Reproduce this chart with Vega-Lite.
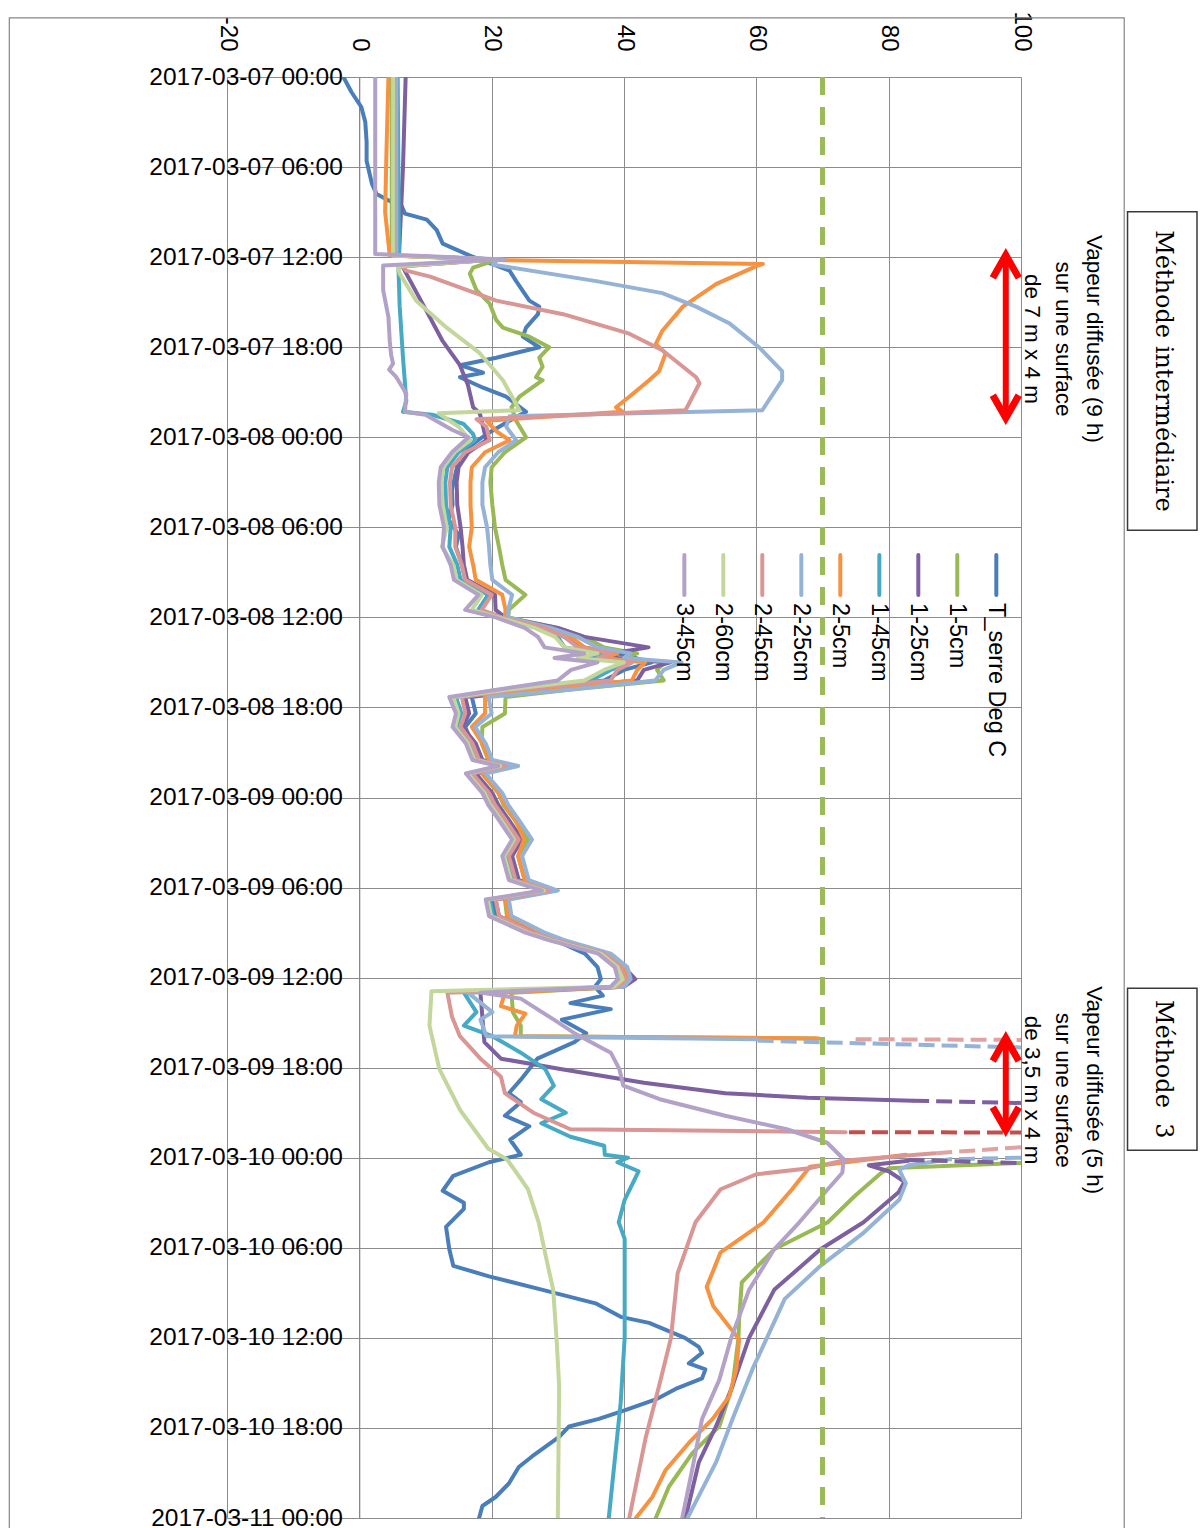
{
"$schema": "https://vega.github.io/schema/vega-lite/v6.json",
"width": 794,
"height": 1441,
"autosize": {"type": "none"},
"padding": {"left": 227, "top": 77, "right": 181, "bottom": 10},
"background": "#ffffff",
"config": {"view": {"stroke": null}, "font": "Liberation Sans"},
"layer": [
{
"data": {"format": {"parse": {"t": "date:'%Y-%m-%d %H:%M'"}}, "values": [
{"s":"T","t":"2017-03-07 00:00","v":-2.4},{"s":"T","t":"2017-03-07 01:00","v":-1.2},{"s":"T","t":"2017-03-07 02:00","v":0.3},{"s":"T","t":"2017-03-07 03:00","v":0.9},{"s":"T","t":"2017-03-07 04:18","v":1.1},{"s":"T","t":"2017-03-07 05:36","v":1.1},{"s":"T","t":"2017-03-07 07:06","v":1.9},{"s":"T","t":"2017-03-07 07:48","v":2.6},{"s":"T","t":"2017-03-07 08:12","v":4.3},{"s":"T","t":"2017-03-07 08:36","v":6.4},{"s":"T","t":"2017-03-07 09:06","v":6.9},{"s":"T","t":"2017-03-07 09:30","v":10.2},{"s":"T","t":"2017-03-07 10:12","v":11.7},{"s":"T","t":"2017-03-07 11:06","v":12.6},{"s":"T","t":"2017-03-07 11:54","v":16.7},{"s":"T","t":"2017-03-07 12:54","v":22.7},{"s":"T","t":"2017-03-07 13:36","v":23.7},{"s":"T","t":"2017-03-07 14:54","v":25.7},{"s":"T","t":"2017-03-07 15:18","v":27.2},{"s":"T","t":"2017-03-07 15:48","v":27},{"s":"T","t":"2017-03-07 16:42","v":25.2},{"s":"T","t":"2017-03-07 17:18","v":24.7},{"s":"T","t":"2017-03-07 18:00","v":27.2},{"s":"T","t":"2017-03-07 18:42","v":20.7},{"s":"T","t":"2017-03-07 19:12","v":15.2},{"s":"T","t":"2017-03-07 19:42","v":18.7},{"s":"T","t":"2017-03-07 20:00","v":15.2},{"s":"T","t":"2017-03-07 20:42","v":18.7},{"s":"T","t":"2017-03-07 21:18","v":22.2},{"s":"T","t":"2017-03-07 22:18","v":25.2},{"s":"T","t":"2017-03-07 22:54","v":22.7},{"s":"T","t":"2017-03-07 23:48","v":19.2},
{"s":"T","t":"2017-03-08 00:30","v":17},{"s":"T","t":"2017-03-08 01:30","v":15},{"s":"T","t":"2017-03-08 02:30","v":14.5},{"s":"T","t":"2017-03-08 03:30","v":14},{"s":"T","t":"2017-03-08 04:30","v":14.1},{"s":"T","t":"2017-03-08 05:30","v":13.5},{"s":"T","t":"2017-03-08 06:30","v":15},{"s":"T","t":"2017-03-08 07:18","v":14.6},{"s":"T","t":"2017-03-08 08:30","v":15.5},{"s":"T","t":"2017-03-08 09:30","v":16},{"s":"T","t":"2017-03-08 10:30","v":19.5},{"s":"T","t":"2017-03-08 11:30","v":18},{"s":"T","t":"2017-03-08 12:00","v":21.5},{"s":"T","t":"2017-03-08 12:42","v":28},{"s":"T","t":"2017-03-08 13:18","v":31},{"s":"T","t":"2017-03-08 14:00","v":34},{"s":"T","t":"2017-03-08 14:30","v":40},{"s":"T","t":"2017-03-08 15:00","v":44.2},{"s":"T","t":"2017-03-08 15:30","v":40},{"s":"T","t":"2017-03-08 16:12","v":37},{"s":"T","t":"2017-03-08 16:48","v":25},{"s":"T","t":"2017-03-08 17:18","v":17},{"s":"T","t":"2017-03-08 18:24","v":17.6},{"s":"T","t":"2017-03-08 19:18","v":16},{"s":"T","t":"2017-03-08 20:24","v":17.1},{"s":"T","t":"2017-03-08 21:30","v":18.1},{"s":"T","t":"2017-03-08 21:54","v":22},{"s":"T","t":"2017-03-08 22:24","v":17.1},{"s":"T","t":"2017-03-08 23:42","v":19.6},
{"s":"T","t":"2017-03-09 00:30","v":20.5},{"s":"T","t":"2017-03-09 01:30","v":22.1},{"s":"T","t":"2017-03-09 02:48","v":24.1},{"s":"T","t":"2017-03-09 03:54","v":22.6},{"s":"T","t":"2017-03-09 05:30","v":23.6},{"s":"T","t":"2017-03-09 06:12","v":28.6},{"s":"T","t":"2017-03-09 06:48","v":20.1},{"s":"T","t":"2017-03-09 07:54","v":20.6},{"s":"T","t":"2017-03-09 09:00","v":26.1},{"s":"T","t":"2017-03-09 09:30","v":29.6},{"s":"T","t":"2017-03-09 10:24","v":34.1},{"s":"T","t":"2017-03-09 11:18","v":36},{"s":"T","t":"2017-03-09 12:06","v":36.5},{"s":"T","t":"2017-03-09 12:36","v":35.6},{"s":"T","t":"2017-03-09 13:12","v":36.8},{"s":"T","t":"2017-03-09 13:42","v":31.9},{"s":"T","t":"2017-03-09 14:06","v":38},{"s":"T","t":"2017-03-09 14:48","v":30.6},{"s":"T","t":"2017-03-09 15:42","v":34.3},{"s":"T","t":"2017-03-09 16:18","v":32.5},{"s":"T","t":"2017-03-09 17:24","v":26.9},{"s":"T","t":"2017-03-09 18:48","v":24.4},{"s":"T","t":"2017-03-09 19:42","v":22.6},{"s":"T","t":"2017-03-09 20:18","v":24.4},{"s":"T","t":"2017-03-09 21:12","v":22},{"s":"T","t":"2017-03-09 21:54","v":25.7},{"s":"T","t":"2017-03-09 22:48","v":22.8},{"s":"T","t":"2017-03-09 23:48","v":24.4},
{"s":"T","t":"2017-03-10 00:18","v":19.6},{"s":"T","t":"2017-03-10 01:12","v":14.2},{"s":"T","t":"2017-03-10 02:12","v":12.6},{"s":"T","t":"2017-03-10 03:00","v":15.8},{"s":"T","t":"2017-03-10 03:24","v":15.8},{"s":"T","t":"2017-03-10 04:36","v":13.1},{"s":"T","t":"2017-03-10 06:06","v":13.6},{"s":"T","t":"2017-03-10 07:12","v":14.2},{"s":"T","t":"2017-03-10 07:54","v":19.6},{"s":"T","t":"2017-03-10 08:48","v":27.7},{"s":"T","t":"2017-03-10 09:42","v":35.7},{"s":"T","t":"2017-03-10 10:36","v":39.5},{"s":"T","t":"2017-03-10 11:00","v":43.8},{"s":"T","t":"2017-03-10 12:00","v":49.2},{"s":"T","t":"2017-03-10 12:36","v":51.3},{"s":"T","t":"2017-03-10 13:00","v":51.8},{"s":"T","t":"2017-03-10 13:42","v":49.8},{"s":"T","t":"2017-03-10 14:06","v":52.3},{"s":"T","t":"2017-03-10 14:42","v":51.8},{"s":"T","t":"2017-03-10 15:24","v":47.8},{"s":"T","t":"2017-03-10 16:06","v":44.8},{"s":"T","t":"2017-03-10 16:48","v":40.3},{"s":"T","t":"2017-03-10 17:24","v":36.2},{"s":"T","t":"2017-03-10 17:54","v":31.7},{"s":"T","t":"2017-03-10 18:36","v":30.2},{"s":"T","t":"2017-03-10 19:54","v":26.1},{"s":"T","t":"2017-03-10 20:36","v":24.1},{"s":"T","t":"2017-03-10 21:42","v":22.6},{"s":"T","t":"2017-03-10 22:36","v":20.6},{"s":"T","t":"2017-03-10 23:12","v":18.6},{"s":"T","t":"2017-03-11 00:00","v":18.1},

{"s":"G5","t":"2017-03-07 00:00","v":4.9},{"s":"G5","t":"2017-03-07 11:54","v":4.9},{"s":"G5","t":"2017-03-07 12:09","v":21},{"s":"G5","t":"2017-03-07 12:42","v":17.2},{"s":"G5","t":"2017-03-07 13:06","v":16.7},{"s":"G5","t":"2017-03-07 14:12","v":17.7},{"s":"G5","t":"2017-03-07 15:06","v":19.7},{"s":"G5","t":"2017-03-07 16:12","v":20.7},{"s":"G5","t":"2017-03-07 16:42","v":21.7},{"s":"G5","t":"2017-03-07 17:18","v":25.7},{"s":"G5","t":"2017-03-07 18:00","v":28.7},{"s":"G5","t":"2017-03-07 18:42","v":27.2},{"s":"G5","t":"2017-03-07 19:18","v":27.7},{"s":"G5","t":"2017-03-07 20:00","v":26.7},{"s":"G5","t":"2017-03-07 20:12","v":27.7},{"s":"G5","t":"2017-03-07 21:18","v":24.2},{"s":"G5","t":"2017-03-07 22:00","v":23},{"s":"G5","t":"2017-03-07 22:54","v":23.7},{"s":"G5","t":"2017-03-08 00:00","v":25.2},
{"s":"G5","t":"2017-03-08 01:00","v":22},{"s":"G5","t":"2017-03-08 02:00","v":20},{"s":"G5","t":"2017-03-08 03:00","v":19.8},{"s":"G5","t":"2017-03-08 04:30","v":20.1},{"s":"G5","t":"2017-03-08 06:00","v":20.5},{"s":"G5","t":"2017-03-08 07:18","v":21.1},{"s":"G5","t":"2017-03-08 08:30","v":21.6},{"s":"G5","t":"2017-03-08 09:30","v":22.1},{"s":"G5","t":"2017-03-08 10:30","v":25.1},{"s":"G5","t":"2017-03-08 11:30","v":22.6},{"s":"G5","t":"2017-03-08 12:00","v":22.5},{"s":"G5","t":"2017-03-08 12:42","v":30},{"s":"G5","t":"2017-03-08 13:18","v":34},{"s":"G5","t":"2017-03-08 14:00","v":37},{"s":"G5","t":"2017-03-08 14:24","v":42},{"s":"G5","t":"2017-03-08 14:42","v":40},{"s":"G5","t":"2017-03-08 15:00","v":46.2},{"s":"G5","t":"2017-03-08 15:30","v":45},{"s":"G5","t":"2017-03-08 16:12","v":46},{"s":"G5","t":"2017-03-08 16:48","v":32},{"s":"G5","t":"2017-03-08 17:18","v":22.1},{"s":"G5","t":"2017-03-08 18:24","v":22},{"s":"G5","t":"2017-03-08 19:18","v":18.6},{"s":"G5","t":"2017-03-08 20:24","v":18.5},{"s":"G5","t":"2017-03-08 21:30","v":19.5},{"s":"G5","t":"2017-03-08 21:54","v":23},{"s":"G5","t":"2017-03-08 22:24","v":18.5},{"s":"G5","t":"2017-03-08 23:42","v":21},{"s":"G5","t":"2017-03-09 00:30","v":21.8},{"s":"G5","t":"2017-03-09 01:30","v":23.5},{"s":"G5","t":"2017-03-09 02:48","v":25.5},{"s":"G5","t":"2017-03-09 03:54","v":24},{"s":"G5","t":"2017-03-09 05:30","v":25},{"s":"G5","t":"2017-03-09 06:12","v":29.5},{"s":"G5","t":"2017-03-09 06:48","v":22},{"s":"G5","t":"2017-03-09 07:54","v":22.3},{"s":"G5","t":"2017-03-09 09:00","v":27.3},{"s":"G5","t":"2017-03-09 09:30","v":30.3},{"s":"G5","t":"2017-03-09 10:24","v":37.5},{"s":"G5","t":"2017-03-09 11:18","v":40},{"s":"G5","t":"2017-03-09 12:06","v":41},{"s":"G5","t":"2017-03-09 12:36","v":40},
{"s":"G5","t":"2017-03-09 13:00","v":23},{"s":"G5","t":"2017-03-09 14:18","v":23.2},{"s":"G5","t":"2017-03-09 15:12","v":24.4},{"s":"G5","t":"2017-03-09 15:54","v":24.4},{"s":"G5","t":"2017-03-09 16:03","v":69},
{"s":"G5b","t":"2017-03-10 00:21","v":100},{"s":"G5b","t":"2017-03-10 00:42","v":80},{"s":"G5b","t":"2017-03-10 01:00","v":78.9},{"s":"G5b","t":"2017-03-10 02:30","v":75},{"s":"G5b","t":"2017-03-10 04:18","v":70.8},{"s":"G5b","t":"2017-03-10 06:06","v":62.7},{"s":"G5b","t":"2017-03-10 08:18","v":57.8},{"s":"G5b","t":"2017-03-10 10:48","v":57.4},{"s":"G5b","t":"2017-03-10 12:00","v":57.3},{"s":"G5b","t":"2017-03-10 15:12","v":56.4},{"s":"G5b","t":"2017-03-10 17:54","v":54.4},{"s":"G5b","t":"2017-03-10 19:42","v":50.3},{"s":"G5b","t":"2017-03-10 21:54","v":46.8},{"s":"G5b","t":"2017-03-11 00:00","v":44.8},

{"s":"P25","t":"2017-03-07 00:00","v":7},{"s":"P25","t":"2017-03-07 06:00","v":6.6},{"s":"P25","t":"2017-03-07 11:54","v":6},{"s":"P25","t":"2017-03-07 12:09","v":21},{"s":"P25","t":"2017-03-07 12:36","v":6.5},{"s":"P25","t":"2017-03-07 13:06","v":7.1},{"s":"P25","t":"2017-03-07 15:18","v":9.8},{"s":"P25","t":"2017-03-07 17:36","v":12.6},{"s":"P25","t":"2017-03-07 19:12","v":15.2},{"s":"P25","t":"2017-03-07 20:30","v":16.4},{"s":"P25","t":"2017-03-07 22:00","v":17.2},{"s":"P25","t":"2017-03-07 22:24","v":18.2},{"s":"P25","t":"2017-03-07 23:18","v":18.7},{"s":"P25","t":"2017-03-08 00:12","v":19.2},
{"s":"P25","t":"2017-03-08 01:00","v":16.5},{"s":"P25","t":"2017-03-08 02:00","v":15},{"s":"P25","t":"2017-03-08 03:00","v":14.7},{"s":"P25","t":"2017-03-08 04:30","v":14.8},{"s":"P25","t":"2017-03-08 06:00","v":15.3},{"s":"P25","t":"2017-03-08 07:18","v":15.6},{"s":"P25","t":"2017-03-08 08:30","v":15.8},{"s":"P25","t":"2017-03-08 09:30","v":16.3},{"s":"P25","t":"2017-03-08 10:30","v":20.5},{"s":"P25","t":"2017-03-08 11:30","v":20.6},{"s":"P25","t":"2017-03-08 12:00","v":22},{"s":"P25","t":"2017-03-08 12:42","v":30},{"s":"P25","t":"2017-03-08 13:18","v":34},{"s":"P25","t":"2017-03-08 14:00","v":43.7},{"s":"P25","t":"2017-03-08 14:24","v":38},{"s":"P25","t":"2017-03-08 14:42","v":39},{"s":"P25","t":"2017-03-08 15:00","v":47},{"s":"P25","t":"2017-03-08 15:30","v":43},{"s":"P25","t":"2017-03-08 16:12","v":42},{"s":"P25","t":"2017-03-08 16:48","v":27},{"s":"P25","t":"2017-03-08 17:18","v":16},{"s":"P25","t":"2017-03-08 18:24","v":16.6},{"s":"P25","t":"2017-03-08 19:18","v":15.6},{"s":"P25","t":"2017-03-08 20:24","v":17.6},{"s":"P25","t":"2017-03-08 21:30","v":18.6},{"s":"P25","t":"2017-03-08 21:54","v":22.5},{"s":"P25","t":"2017-03-08 22:24","v":17.6},{"s":"P25","t":"2017-03-08 23:42","v":20.1},{"s":"P25","t":"2017-03-09 00:30","v":21},{"s":"P25","t":"2017-03-09 01:30","v":22.6},{"s":"P25","t":"2017-03-09 02:48","v":24.6},{"s":"P25","t":"2017-03-09 03:54","v":23.1},{"s":"P25","t":"2017-03-09 05:30","v":24.1},{"s":"P25","t":"2017-03-09 06:12","v":29},{"s":"P25","t":"2017-03-09 06:48","v":20.6},{"s":"P25","t":"2017-03-09 07:54","v":21.1},{"s":"P25","t":"2017-03-09 09:00","v":26.6},{"s":"P25","t":"2017-03-09 09:30","v":30.1},{"s":"P25","t":"2017-03-09 10:24","v":37.6},{"s":"P25","t":"2017-03-09 11:18","v":40},{"s":"P25","t":"2017-03-09 12:06","v":41.7},{"s":"P25","t":"2017-03-09 12:36","v":40},
{"s":"P25","t":"2017-03-09 13:00","v":18.3},{"s":"P25","t":"2017-03-09 16:18","v":18.9},{"s":"P25","t":"2017-03-09 17:24","v":21.4},{"s":"P25","t":"2017-03-09 18:06","v":30.6},{"s":"P25","t":"2017-03-09 19:00","v":43},{"s":"P25","t":"2017-03-09 19:42","v":55.3},{"s":"P25","t":"2017-03-09 20:00","v":67.7},{"s":"P25","t":"2017-03-09 20:12","v":83.7},
{"s":"P25b","t":"2017-03-10 00:12","v":83},{"s":"P25b","t":"2017-03-10 00:30","v":77},{"s":"P25b","t":"2017-03-10 00:54","v":80},{"s":"P25b","t":"2017-03-10 01:36","v":82.4},{"s":"P25b","t":"2017-03-10 02:18","v":81.5},{"s":"P25b","t":"2017-03-10 04:18","v":76.2},{"s":"P25b","t":"2017-03-10 06:06","v":69.7},{"s":"P25b","t":"2017-03-10 08:48","v":62.7},{"s":"P25b","t":"2017-03-10 12:00","v":58.9},{"s":"P25b","t":"2017-03-10 15:12","v":56.4},{"s":"P25b","t":"2017-03-10 17:54","v":53.9},{"s":"P25b","t":"2017-03-10 20:18","v":51.3},{"s":"P25b","t":"2017-03-11 00:00","v":49.3},

{"s":"Te45","t":"2017-03-07 00:00","v":5.8},{"s":"Te45","t":"2017-03-07 11:54","v":6},{"s":"Te45","t":"2017-03-07 12:09","v":21},{"s":"Te45","t":"2017-03-07 12:33","v":5.9},{"s":"Te45","t":"2017-03-07 15:18","v":6.1},{"s":"Te45","t":"2017-03-07 18:42","v":6.6},{"s":"Te45","t":"2017-03-07 21:36","v":7.1},{"s":"Te45","t":"2017-03-07 22:18","v":6.6},{"s":"Te45","t":"2017-03-07 22:30","v":11},{"s":"Te45","t":"2017-03-07 23:06","v":15.7},{"s":"Te45","t":"2017-03-07 23:48","v":17.2},{"s":"Te45","t":"2017-03-08 00:12","v":17.5},
{"s":"Te45","t":"2017-03-08 01:00","v":15},{"s":"Te45","t":"2017-03-08 02:00","v":13.3},{"s":"Te45","t":"2017-03-08 03:00","v":13},{"s":"Te45","t":"2017-03-08 04:30","v":13.1},{"s":"Te45","t":"2017-03-08 06:00","v":13.8},{"s":"Te45","t":"2017-03-08 07:18","v":13.6},{"s":"Te45","t":"2017-03-08 08:30","v":14.8},{"s":"Te45","t":"2017-03-08 09:30","v":15.3},{"s":"Te45","t":"2017-03-08 10:30","v":19.5},{"s":"Te45","t":"2017-03-08 11:30","v":18},{"s":"Te45","t":"2017-03-08 12:00","v":21.5},{"s":"Te45","t":"2017-03-08 12:42","v":27},{"s":"Te45","t":"2017-03-08 13:18","v":30},{"s":"Te45","t":"2017-03-08 14:00","v":31},{"s":"Te45","t":"2017-03-08 14:24","v":37},{"s":"Te45","t":"2017-03-08 14:42","v":35},{"s":"Te45","t":"2017-03-08 15:00","v":41},{"s":"Te45","t":"2017-03-08 15:30","v":38},{"s":"Te45","t":"2017-03-08 16:12","v":35},{"s":"Te45","t":"2017-03-08 16:48","v":23},{"s":"Te45","t":"2017-03-08 17:18","v":14.6},{"s":"Te45","t":"2017-03-08 18:24","v":15.4},{"s":"Te45","t":"2017-03-08 19:18","v":14.7},{"s":"Te45","t":"2017-03-08 20:24","v":16.7},{"s":"Te45","t":"2017-03-08 21:30","v":17.7},{"s":"Te45","t":"2017-03-08 21:54","v":21.5},{"s":"Te45","t":"2017-03-08 22:24","v":16.7},{"s":"Te45","t":"2017-03-08 23:42","v":19.2},{"s":"Te45","t":"2017-03-09 00:30","v":20.1},{"s":"Te45","t":"2017-03-09 01:30","v":21.7},{"s":"Te45","t":"2017-03-09 02:48","v":23.7},{"s":"Te45","t":"2017-03-09 03:54","v":22.2},{"s":"Te45","t":"2017-03-09 05:30","v":23.2},{"s":"Te45","t":"2017-03-09 06:12","v":28.2},{"s":"Te45","t":"2017-03-09 06:48","v":19.7},{"s":"Te45","t":"2017-03-09 07:54","v":20.2},{"s":"Te45","t":"2017-03-09 09:00","v":25.7},{"s":"Te45","t":"2017-03-09 09:30","v":29.2},{"s":"Te45","t":"2017-03-09 10:24","v":37},{"s":"Te45","t":"2017-03-09 11:18","v":39.5},{"s":"Te45","t":"2017-03-09 12:06","v":40.5},{"s":"Te45","t":"2017-03-09 12:36","v":39},
{"s":"Te45","t":"2017-03-09 13:00","v":15.8},{"s":"Te45","t":"2017-03-09 14:18","v":17.7},{"s":"Te45","t":"2017-03-09 15:12","v":15.8},{"s":"Te45","t":"2017-03-09 15:54","v":20.1},{"s":"Te45","t":"2017-03-09 17:00","v":24.4},{"s":"Te45","t":"2017-03-09 18:06","v":28.1},{"s":"Te45","t":"2017-03-09 19:12","v":29.4},{"s":"Te45","t":"2017-03-09 20:06","v":27.5},{"s":"Te45","t":"2017-03-09 21:00","v":31.2},{"s":"Te45","t":"2017-03-09 21:42","v":27.5},{"s":"Te45","t":"2017-03-09 22:36","v":31.9},{"s":"Te45","t":"2017-03-09 23:12","v":37},{"s":"Te45","t":"2017-03-09 23:48","v":37.1},{"s":"Te45","t":"2017-03-10 00:00","v":40.6},{"s":"Te45","t":"2017-03-10 00:18","v":39},{"s":"Te45","t":"2017-03-10 00:54","v":42.2},{"s":"Te45","t":"2017-03-10 02:48","v":40.1},{"s":"Te45","t":"2017-03-10 04:18","v":39.2},{"s":"Te45","t":"2017-03-10 05:24","v":40.1},{"s":"Te45","t":"2017-03-10 12:00","v":40.1},{"s":"Te45","t":"2017-03-10 16:18","v":39.5},{"s":"Te45","t":"2017-03-11 00:00","v":37.7},

{"s":"O5","t":"2017-03-07 00:00","v":4.4},{"s":"O5","t":"2017-03-07 05:00","v":4.1},{"s":"O5","t":"2017-03-07 09:00","v":3.9},{"s":"O5","t":"2017-03-07 11:54","v":4.6},{"s":"O5","t":"2017-03-07 12:12","v":22},{"s":"O5","t":"2017-03-07 12:27","v":61},{"s":"O5","t":"2017-03-07 12:36","v":60},{"s":"O5","t":"2017-03-07 13:48","v":53.9},{"s":"O5","t":"2017-03-07 14:42","v":50.9},{"s":"O5","t":"2017-03-07 15:18","v":48.9},{"s":"O5","t":"2017-03-07 16:54","v":45.8},{"s":"O5","t":"2017-03-07 17:48","v":44.8},{"s":"O5","t":"2017-03-07 18:24","v":46.3},{"s":"O5","t":"2017-03-07 19:36","v":45.3},{"s":"O5","t":"2017-03-07 20:12","v":43.8},{"s":"O5","t":"2017-03-07 21:18","v":40.8},{"s":"O5","t":"2017-03-07 22:00","v":38.8},{"s":"O5","t":"2017-03-07 22:18","v":39.8},{"s":"O5","t":"2017-03-07 22:54","v":19.2},{"s":"O5","t":"2017-03-07 23:36","v":20.7},{"s":"O5","t":"2017-03-08 00:12","v":22.7},
{"s":"O5","t":"2017-03-08 01:00","v":19},{"s":"O5","t":"2017-03-08 02:00","v":17},{"s":"O5","t":"2017-03-08 03:00","v":16.8},{"s":"O5","t":"2017-03-08 04:30","v":16.8},{"s":"O5","t":"2017-03-08 06:00","v":17},{"s":"O5","t":"2017-03-08 07:18","v":16.6},{"s":"O5","t":"2017-03-08 08:30","v":17.2},{"s":"O5","t":"2017-03-08 09:30","v":17.6},{"s":"O5","t":"2017-03-08 10:30","v":21.6},{"s":"O5","t":"2017-03-08 11:30","v":22.1},{"s":"O5","t":"2017-03-08 12:00","v":22},{"s":"O5","t":"2017-03-08 12:42","v":28},{"s":"O5","t":"2017-03-08 13:18","v":32},{"s":"O5","t":"2017-03-08 14:00","v":34},{"s":"O5","t":"2017-03-08 14:24","v":39},{"s":"O5","t":"2017-03-08 14:42","v":37},{"s":"O5","t":"2017-03-08 15:00","v":43.2},{"s":"O5","t":"2017-03-08 15:30","v":42},{"s":"O5","t":"2017-03-08 16:12","v":41.2},{"s":"O5","t":"2017-03-08 16:48","v":28},{"s":"O5","t":"2017-03-08 17:18","v":19},{"s":"O5","t":"2017-03-08 18:24","v":19},{"s":"O5","t":"2017-03-08 19:18","v":17},{"s":"O5","t":"2017-03-08 20:24","v":18.6},{"s":"O5","t":"2017-03-08 21:30","v":19.6},{"s":"O5","t":"2017-03-08 21:54","v":23.5},{"s":"O5","t":"2017-03-08 22:24","v":18.6},{"s":"O5","t":"2017-03-08 23:42","v":21.1},{"s":"O5","t":"2017-03-09 00:30","v":22},{"s":"O5","t":"2017-03-09 01:30","v":23.6},{"s":"O5","t":"2017-03-09 02:48","v":24.9},{"s":"O5","t":"2017-03-09 03:54","v":24},{"s":"O5","t":"2017-03-09 05:30","v":25},{"s":"O5","t":"2017-03-09 06:12","v":29.5},{"s":"O5","t":"2017-03-09 06:48","v":22.1},{"s":"O5","t":"2017-03-09 07:54","v":22.5},{"s":"O5","t":"2017-03-09 09:00","v":27.5},{"s":"O5","t":"2017-03-09 09:30","v":30.5},{"s":"O5","t":"2017-03-09 10:24","v":37.5},{"s":"O5","t":"2017-03-09 11:18","v":40},{"s":"O5","t":"2017-03-09 12:06","v":40.5},{"s":"O5","t":"2017-03-09 12:36","v":39.5},
{"s":"O5","t":"2017-03-09 13:00","v":22},{"s":"O5","t":"2017-03-09 13:54","v":21.4},{"s":"O5","t":"2017-03-09 14:24","v":25.1},{"s":"O5","t":"2017-03-09 15:12","v":23.8},{"s":"O5","t":"2017-03-09 15:54","v":23.5},{"s":"O5","t":"2017-03-09 16:03","v":69.5},
{"s":"O5b","t":"2017-03-09 23:48","v":82.6},{"s":"O5b","t":"2017-03-10 00:36","v":68.1},{"s":"O5b","t":"2017-03-10 02:06","v":65.4},{"s":"O5b","t":"2017-03-10 04:18","v":61.1},{"s":"O5b","t":"2017-03-10 06:18","v":54.6},{"s":"O5b","t":"2017-03-10 08:36","v":52.5},{"s":"O5b","t":"2017-03-10 09:54","v":53.5},{"s":"O5b","t":"2017-03-10 12:06","v":57.4},{"s":"O5b","t":"2017-03-10 14:00","v":57},{"s":"O5b","t":"2017-03-10 15:54","v":55.9},{"s":"O5b","t":"2017-03-10 17:24","v":53.4},{"s":"O5b","t":"2017-03-10 19:00","v":49.8},{"s":"O5b","t":"2017-03-10 20:48","v":46.3},{"s":"O5b","t":"2017-03-10 22:36","v":44.3},{"s":"O5b","t":"2017-03-11 00:00","v":41.8},

{"s":"LB25","t":"2017-03-07 00:00","v":5.6},{"s":"LB25","t":"2017-03-07 11:54","v":5.6},{"s":"LB25","t":"2017-03-07 12:09","v":21},{"s":"LB25","t":"2017-03-07 12:30","v":20.2},{"s":"LB25","t":"2017-03-07 13:36","v":35.8},{"s":"LB25","t":"2017-03-07 14:24","v":45.8},{"s":"LB25","t":"2017-03-07 15:18","v":50.9},{"s":"LB25","t":"2017-03-07 16:24","v":55.9},{"s":"LB25","t":"2017-03-07 18:00","v":60.4},{"s":"LB25","t":"2017-03-07 19:36","v":63.9},{"s":"LB25","t":"2017-03-07 20:12","v":63.9},{"s":"LB25","t":"2017-03-07 22:12","v":60.9},{"s":"LB25","t":"2017-03-07 22:36","v":22.7},{"s":"LB25","t":"2017-03-07 23:18","v":22.2},{"s":"LB25","t":"2017-03-08 00:12","v":23.7},
{"s":"LB25","t":"2017-03-08 01:00","v":21},{"s":"LB25","t":"2017-03-08 02:00","v":19},{"s":"LB25","t":"2017-03-08 03:00","v":18.6},{"s":"LB25","t":"2017-03-08 04:30","v":18.6},{"s":"LB25","t":"2017-03-08 06:00","v":19.3},{"s":"LB25","t":"2017-03-08 07:18","v":19.6},{"s":"LB25","t":"2017-03-08 08:30","v":19.8},{"s":"LB25","t":"2017-03-08 09:30","v":20.1},{"s":"LB25","t":"2017-03-08 10:30","v":23.1},{"s":"LB25","t":"2017-03-08 11:30","v":22.5},{"s":"LB25","t":"2017-03-08 12:00","v":22.5},{"s":"LB25","t":"2017-03-08 12:42","v":29},{"s":"LB25","t":"2017-03-08 13:18","v":33},{"s":"LB25","t":"2017-03-08 14:00","v":36},{"s":"LB25","t":"2017-03-08 14:24","v":41},{"s":"LB25","t":"2017-03-08 14:42","v":40},{"s":"LB25","t":"2017-03-08 15:00","v":48.7},{"s":"LB25","t":"2017-03-08 15:30","v":46},{"s":"LB25","t":"2017-03-08 16:12","v":44.7},{"s":"LB25","t":"2017-03-08 16:48","v":32},{"s":"LB25","t":"2017-03-08 17:18","v":19.5},{"s":"LB25","t":"2017-03-08 18:24","v":20},{"s":"LB25","t":"2017-03-08 19:18","v":17.5},{"s":"LB25","t":"2017-03-08 20:24","v":19.1},{"s":"LB25","t":"2017-03-08 21:30","v":20.1},{"s":"LB25","t":"2017-03-08 21:54","v":24},{"s":"LB25","t":"2017-03-08 22:24","v":19.1},{"s":"LB25","t":"2017-03-08 23:42","v":21.6},{"s":"LB25","t":"2017-03-09 00:30","v":22.5},{"s":"LB25","t":"2017-03-09 01:30","v":24.1},{"s":"LB25","t":"2017-03-09 02:48","v":26.1},{"s":"LB25","t":"2017-03-09 03:54","v":24.6},{"s":"LB25","t":"2017-03-09 05:30","v":25.6},{"s":"LB25","t":"2017-03-09 06:12","v":30},{"s":"LB25","t":"2017-03-09 06:48","v":22.6},{"s":"LB25","t":"2017-03-09 07:54","v":23},{"s":"LB25","t":"2017-03-09 09:00","v":28},{"s":"LB25","t":"2017-03-09 09:30","v":31},{"s":"LB25","t":"2017-03-09 10:24","v":38},{"s":"LB25","t":"2017-03-09 11:18","v":40.5},{"s":"LB25","t":"2017-03-09 12:06","v":41},{"s":"LB25","t":"2017-03-09 12:36","v":40},
{"s":"LB25","t":"2017-03-09 13:00","v":16.4},{"s":"LB25","t":"2017-03-09 14:18","v":20.1},{"s":"LB25","t":"2017-03-09 14:48","v":18.3},{"s":"LB25","t":"2017-03-09 15:54","v":19.2},{"s":"LB25","t":"2017-03-09 16:06","v":60.2},
{"s":"LB25b","t":"2017-03-10 00:06","v":89.3},{"s":"LB25b","t":"2017-03-10 00:30","v":83},{"s":"LB25b","t":"2017-03-10 00:48","v":81.6},{"s":"LB25b","t":"2017-03-10 01:42","v":82.6},{"s":"LB25b","t":"2017-03-10 02:48","v":81.6},{"s":"LB25b","t":"2017-03-10 05:00","v":76.2},{"s":"LB25b","t":"2017-03-10 07:12","v":69.7},{"s":"LB25b","t":"2017-03-10 09:24","v":64.3},{"s":"LB25b","t":"2017-03-10 12:00","v":61.6},{"s":"LB25b","t":"2017-03-10 14:06","v":59.4},{"s":"LB25b","t":"2017-03-10 17:24","v":56.4},{"s":"LB25b","t":"2017-03-10 20:18","v":53.9},{"s":"LB25b","t":"2017-03-11 00:00","v":49.6},

{"s":"Pk45","t":"2017-03-07 00:00","v":5.3},{"s":"Pk45","t":"2017-03-07 11:54","v":5.3},{"s":"Pk45","t":"2017-03-07 12:09","v":21},{"s":"Pk45","t":"2017-03-07 12:36","v":6.5},{"s":"Pk45","t":"2017-03-07 12:54","v":7.1},{"s":"Pk45","t":"2017-03-07 13:18","v":10.7},{"s":"Pk45","t":"2017-03-07 14:54","v":20.7},{"s":"Pk45","t":"2017-03-07 15:48","v":30.8},{"s":"Pk45","t":"2017-03-07 17:06","v":40.8},{"s":"Pk45","t":"2017-03-07 18:12","v":45.8},{"s":"Pk45","t":"2017-03-07 20:00","v":50.9},{"s":"Pk45","t":"2017-03-07 20:24","v":51.4},{"s":"Pk45","t":"2017-03-07 22:12","v":49.3},{"s":"Pk45","t":"2017-03-07 22:48","v":17.7},{"s":"Pk45","t":"2017-03-07 23:18","v":19.2},{"s":"Pk45","t":"2017-03-08 00:12","v":19.7},
{"s":"Pk45","t":"2017-03-08 01:00","v":16},{"s":"Pk45","t":"2017-03-08 02:00","v":14},{"s":"Pk45","t":"2017-03-08 03:00","v":13.7},{"s":"Pk45","t":"2017-03-08 04:30","v":13.8},{"s":"Pk45","t":"2017-03-08 06:00","v":14.5},{"s":"Pk45","t":"2017-03-08 07:18","v":14.5},{"s":"Pk45","t":"2017-03-08 08:30","v":15.5},{"s":"Pk45","t":"2017-03-08 09:30","v":16},{"s":"Pk45","t":"2017-03-08 10:30","v":20},{"s":"Pk45","t":"2017-03-08 11:30","v":18.5},{"s":"Pk45","t":"2017-03-08 12:00","v":21.5},{"s":"Pk45","t":"2017-03-08 12:42","v":28},{"s":"Pk45","t":"2017-03-08 13:18","v":31},{"s":"Pk45","t":"2017-03-08 14:00","v":33},{"s":"Pk45","t":"2017-03-08 14:24","v":38},{"s":"Pk45","t":"2017-03-08 14:42","v":36},{"s":"Pk45","t":"2017-03-08 15:00","v":41.2},{"s":"Pk45","t":"2017-03-08 15:30","v":39},{"s":"Pk45","t":"2017-03-08 16:12","v":38},{"s":"Pk45","t":"2017-03-08 16:48","v":24},{"s":"Pk45","t":"2017-03-08 17:18","v":15.5},{"s":"Pk45","t":"2017-03-08 18:24","v":16},{"s":"Pk45","t":"2017-03-08 19:18","v":15.3},{"s":"Pk45","t":"2017-03-08 20:24","v":17.1},{"s":"Pk45","t":"2017-03-08 21:30","v":18.1},{"s":"Pk45","t":"2017-03-08 21:54","v":22},{"s":"Pk45","t":"2017-03-08 22:24","v":17.1},{"s":"Pk45","t":"2017-03-08 23:42","v":19.6},{"s":"Pk45","t":"2017-03-09 00:30","v":20.5},{"s":"Pk45","t":"2017-03-09 01:30","v":22.1},{"s":"Pk45","t":"2017-03-09 02:48","v":24.1},{"s":"Pk45","t":"2017-03-09 03:54","v":22.6},{"s":"Pk45","t":"2017-03-09 05:30","v":23.6},{"s":"Pk45","t":"2017-03-09 06:12","v":28.6},{"s":"Pk45","t":"2017-03-09 06:48","v":20.6},{"s":"Pk45","t":"2017-03-09 07:54","v":21.1},{"s":"Pk45","t":"2017-03-09 09:00","v":26.1},{"s":"Pk45","t":"2017-03-09 09:30","v":29.6},{"s":"Pk45","t":"2017-03-09 10:24","v":37},{"s":"Pk45","t":"2017-03-09 11:18","v":39.5},{"s":"Pk45","t":"2017-03-09 12:06","v":40.2},{"s":"Pk45","t":"2017-03-09 12:36","v":39},
{"s":"Pk45","t":"2017-03-09 13:00","v":13.3},{"s":"Pk45","t":"2017-03-09 14:36","v":14},{"s":"Pk45","t":"2017-03-09 15:54","v":15.2},{"s":"Pk45","t":"2017-03-09 17:24","v":18.3},{"s":"Pk45","t":"2017-03-09 18:36","v":21.4},{"s":"Pk45","t":"2017-03-09 19:42","v":22},{"s":"Pk45","t":"2017-03-09 21:00","v":26.3},{"s":"Pk45","t":"2017-03-09 22:06","v":31.9},{"s":"Pk45","t":"2017-03-09 22:18","v":73.5},
{"s":"Pk45b","t":"2017-03-09 23:42","v":87},{"s":"Pk45b","t":"2017-03-10 00:12","v":73},{"s":"Pk45b","t":"2017-03-10 00:42","v":68},{"s":"Pk45b","t":"2017-03-10 01:06","v":60},{"s":"Pk45b","t":"2017-03-10 02:06","v":54.6},{"s":"Pk45b","t":"2017-03-10 04:18","v":50.8},{"s":"Pk45b","t":"2017-03-10 07:42","v":48.1},{"s":"Pk45b","t":"2017-03-10 12:00","v":47.1},{"s":"Pk45b","t":"2017-03-10 15:12","v":45.3},{"s":"Pk45b","t":"2017-03-10 18:36","v":43.3},{"s":"Pk45b","t":"2017-03-11 00:00","v":40.8},

{"s":"LG60","t":"2017-03-07 00:00","v":5.1},{"s":"LG60","t":"2017-03-07 11:54","v":5.1},{"s":"LG60","t":"2017-03-07 12:09","v":21},{"s":"LG60","t":"2017-03-07 12:36","v":5.8},{"s":"LG60","t":"2017-03-07 13:06","v":6.1},{"s":"LG60","t":"2017-03-07 14:54","v":8.6},{"s":"LG60","t":"2017-03-07 16:42","v":13.2},{"s":"LG60","t":"2017-03-07 18:24","v":18.2},{"s":"LG60","t":"2017-03-07 20:12","v":21.7},{"s":"LG60","t":"2017-03-07 22:12","v":24.2},{"s":"LG60","t":"2017-03-07 22:24","v":12},{"s":"LG60","t":"2017-03-07 23:18","v":15},{"s":"LG60","t":"2017-03-08 00:12","v":16.8},
{"s":"LG60","t":"2017-03-08 01:00","v":14.4},{"s":"LG60","t":"2017-03-08 02:00","v":12.7},{"s":"LG60","t":"2017-03-08 03:00","v":12.4},{"s":"LG60","t":"2017-03-08 04:30","v":12.6},{"s":"LG60","t":"2017-03-08 06:00","v":13.2},{"s":"LG60","t":"2017-03-08 07:18","v":12.5},{"s":"LG60","t":"2017-03-08 08:30","v":14.2},{"s":"LG60","t":"2017-03-08 09:30","v":14.7},{"s":"LG60","t":"2017-03-08 10:30","v":18.5},{"s":"LG60","t":"2017-03-08 11:30","v":17},{"s":"LG60","t":"2017-03-08 12:00","v":21},{"s":"LG60","t":"2017-03-08 12:42","v":26.5},{"s":"LG60","t":"2017-03-08 13:18","v":29.6},{"s":"LG60","t":"2017-03-08 14:00","v":31},{"s":"LG60","t":"2017-03-08 14:24","v":36},{"s":"LG60","t":"2017-03-08 14:42","v":33},{"s":"LG60","t":"2017-03-08 15:00","v":40},{"s":"LG60","t":"2017-03-08 15:30","v":37},{"s":"LG60","t":"2017-03-08 16:12","v":34},{"s":"LG60","t":"2017-03-08 16:48","v":22.5},{"s":"LG60","t":"2017-03-08 17:18","v":14.2},{"s":"LG60","t":"2017-03-08 18:24","v":15},{"s":"LG60","t":"2017-03-08 19:18","v":14.5},{"s":"LG60","t":"2017-03-08 20:24","v":16.4},{"s":"LG60","t":"2017-03-08 21:30","v":17.4},{"s":"LG60","t":"2017-03-08 21:54","v":21.3},{"s":"LG60","t":"2017-03-08 22:24","v":16.4},{"s":"LG60","t":"2017-03-08 23:42","v":18.9},{"s":"LG60","t":"2017-03-09 00:30","v":19.8},{"s":"LG60","t":"2017-03-09 01:30","v":21.4},{"s":"LG60","t":"2017-03-09 02:48","v":23.4},{"s":"LG60","t":"2017-03-09 03:54","v":21.9},{"s":"LG60","t":"2017-03-09 05:30","v":22.9},{"s":"LG60","t":"2017-03-09 06:12","v":27.9},{"s":"LG60","t":"2017-03-09 06:48","v":19.4},{"s":"LG60","t":"2017-03-09 07:54","v":19.9},{"s":"LG60","t":"2017-03-09 09:00","v":25.4},{"s":"LG60","t":"2017-03-09 09:30","v":28.9},{"s":"LG60","t":"2017-03-09 10:24","v":36.5},{"s":"LG60","t":"2017-03-09 11:18","v":39},{"s":"LG60","t":"2017-03-09 12:06","v":39.8},{"s":"LG60","t":"2017-03-09 12:36","v":38.5},
{"s":"LG60","t":"2017-03-09 12:54","v":10.9},{"s":"LG60","t":"2017-03-09 15:12","v":10.6},{"s":"LG60","t":"2017-03-09 18:06","v":12.1},{"s":"LG60","t":"2017-03-09 20:48","v":15.2},{"s":"LG60","t":"2017-03-09 23:24","v":19.5},{"s":"LG60","t":"2017-03-10 00:06","v":22.3},{"s":"LG60","t":"2017-03-10 01:24","v":24.4},{"s":"LG60","t":"2017-03-10 02:06","v":25.5},{"s":"LG60","t":"2017-03-10 04:18","v":27.1},{"s":"LG60","t":"2017-03-10 06:36","v":28.2},{"s":"LG60","t":"2017-03-10 08:48","v":29.3},{"s":"LG60","t":"2017-03-10 12:00","v":29.8},{"s":"LG60","t":"2017-03-10 15:12","v":30.2},{"s":"LG60","t":"2017-03-11 00:00","v":30},

{"s":"L45","t":"2017-03-07 00:00","v":2.4},{"s":"L45","t":"2017-03-07 11:48","v":2.4},{"s":"L45","t":"2017-03-07 12:09","v":22},{"s":"L45","t":"2017-03-07 12:33","v":3.6},{"s":"L45","t":"2017-03-07 14:12","v":3.6},{"s":"L45","t":"2017-03-07 16:00","v":4.4},{"s":"L45","t":"2017-03-07 17:36","v":4.6},{"s":"L45","t":"2017-03-07 18:30","v":4.8},{"s":"L45","t":"2017-03-07 19:06","v":5.1},{"s":"L45","t":"2017-03-07 19:30","v":4.5},{"s":"L45","t":"2017-03-07 20:00","v":5.6},{"s":"L45","t":"2017-03-07 21:06","v":7.1},{"s":"L45","t":"2017-03-07 22:18","v":6.9},{"s":"L45","t":"2017-03-07 22:30","v":10},{"s":"L45","t":"2017-03-07 23:30","v":14},{"s":"L45","t":"2017-03-08 00:00","v":16.5},
{"s":"L45","t":"2017-03-08 01:00","v":14},{"s":"L45","t":"2017-03-08 02:00","v":12.3},{"s":"L45","t":"2017-03-08 03:00","v":12},{"s":"L45","t":"2017-03-08 04:30","v":12.1},{"s":"L45","t":"2017-03-08 06:00","v":12.8},{"s":"L45","t":"2017-03-08 07:18","v":12.6},{"s":"L45","t":"2017-03-08 08:30","v":13.8},{"s":"L45","t":"2017-03-08 09:30","v":14.3},{"s":"L45","t":"2017-03-08 10:30","v":18},{"s":"L45","t":"2017-03-08 11:30","v":16},{"s":"L45","t":"2017-03-08 12:00","v":20.6},{"s":"L45","t":"2017-03-08 12:42","v":25},{"s":"L45","t":"2017-03-08 13:18","v":27},{"s":"L45","t":"2017-03-08 14:00","v":28},{"s":"L45","t":"2017-03-08 14:24","v":34},{"s":"L45","t":"2017-03-08 14:42","v":29.5},{"s":"L45","t":"2017-03-08 15:00","v":36},{"s":"L45","t":"2017-03-08 15:30","v":32},{"s":"L45","t":"2017-03-08 16:12","v":30},{"s":"L45","t":"2017-03-08 16:48","v":21},{"s":"L45","t":"2017-03-08 17:18","v":13.6},{"s":"L45","t":"2017-03-08 18:24","v":14.6},{"s":"L45","t":"2017-03-08 19:18","v":14.1},{"s":"L45","t":"2017-03-08 20:24","v":16.1},{"s":"L45","t":"2017-03-08 21:30","v":17.1},{"s":"L45","t":"2017-03-08 21:54","v":21},{"s":"L45","t":"2017-03-08 22:24","v":16.1},{"s":"L45","t":"2017-03-08 23:42","v":18.6},{"s":"L45","t":"2017-03-09 00:30","v":19.5},{"s":"L45","t":"2017-03-09 01:30","v":21.1},{"s":"L45","t":"2017-03-09 02:48","v":23.1},{"s":"L45","t":"2017-03-09 03:54","v":21.6},{"s":"L45","t":"2017-03-09 05:30","v":22.6},{"s":"L45","t":"2017-03-09 06:12","v":27.6},{"s":"L45","t":"2017-03-09 06:48","v":19.1},{"s":"L45","t":"2017-03-09 07:54","v":19.6},{"s":"L45","t":"2017-03-09 09:00","v":25.1},{"s":"L45","t":"2017-03-09 09:30","v":28.6},{"s":"L45","t":"2017-03-09 10:24","v":36.1},{"s":"L45","t":"2017-03-09 11:18","v":38.6},{"s":"L45","t":"2017-03-09 12:06","v":39.1},{"s":"L45","t":"2017-03-09 12:36","v":38},
{"s":"L45","t":"2017-03-09 13:00","v":18.3},{"s":"L45","t":"2017-03-09 13:24","v":24.4},{"s":"L45","t":"2017-03-09 14:48","v":29.4},{"s":"L45","t":"2017-03-09 15:42","v":32.5},{"s":"L45","t":"2017-03-09 17:00","v":38},{"s":"L45","t":"2017-03-09 18:06","v":39.3},{"s":"L45","t":"2017-03-09 19:12","v":39.9},{"s":"L45","t":"2017-03-09 20:06","v":45.4},{"s":"L45","t":"2017-03-09 21:12","v":55.3},{"s":"L45","t":"2017-03-09 22:06","v":64.6},{"s":"L45","t":"2017-03-09 23:00","v":70.7},{"s":"L45","t":"2017-03-10 00:06","v":73.2},{"s":"L45","t":"2017-03-10 01:00","v":73},{"s":"L45","t":"2017-03-10 02:06","v":70.8},{"s":"L45","t":"2017-03-10 04:18","v":66.5},{"s":"L45","t":"2017-03-10 06:06","v":62.7},{"s":"L45","t":"2017-03-10 08:48","v":58.9},{"s":"L45","t":"2017-03-10 12:00","v":56.2},{"s":"L45","t":"2017-03-10 14:48","v":54.4},{"s":"L45","t":"2017-03-10 17:24","v":51.8},{"s":"L45","t":"2017-03-10 20:48","v":50.3},{"s":"L45","t":"2017-03-11 00:00","v":48.8}
]},
"mark": {"type": "line", "strokeWidth": 4, "strokeJoin": "round", "strokeCap": "round", "clip": true},
"encoding": {
"x": {"field": "v", "type": "quantitative", "scale": {"domain": [-20, 100], "nice": false, "zero": false},
 "axis": {"orient": "top", "values": [-20, 0, 20, 40, 60, 80, 100], "labelExpr": "'' + datum.value", "labelAngle": 90, "labelAlign": "right", "labelBaseline": "middle", "labelFontSize": 24, "labelColor": "#000000", "labelPadding": 26, "labelFlush": false, "labelOverlap": false, "ticks": false, "domain": false, "grid": true, "gridColor": "#8c8c8c", "gridWidth": 1, "title": null}},
"y": {"field": "t", "type": "temporal", "scale": {"domain": [{"year": 2017, "month": 3, "date": 7}, {"year": 2017, "month": 3, "date": 11}], "reverse": true, "nice": false},
 "axis": {"orient": "left", "offset": -132.3, "values": [{"year": 2017, "month": 3, "date": 7, "hours": 0}, {"year": 2017, "month": 3, "date": 7, "hours": 6}, {"year": 2017, "month": 3, "date": 7, "hours": 12}, {"year": 2017, "month": 3, "date": 7, "hours": 18}, {"year": 2017, "month": 3, "date": 8, "hours": 0}, {"year": 2017, "month": 3, "date": 8, "hours": 6}, {"year": 2017, "month": 3, "date": 8, "hours": 12}, {"year": 2017, "month": 3, "date": 8, "hours": 18}, {"year": 2017, "month": 3, "date": 9, "hours": 0}, {"year": 2017, "month": 3, "date": 9, "hours": 6}, {"year": 2017, "month": 3, "date": 9, "hours": 12}, {"year": 2017, "month": 3, "date": 9, "hours": 18}, {"year": 2017, "month": 3, "date": 10, "hours": 0}, {"year": 2017, "month": 3, "date": 10, "hours": 6}, {"year": 2017, "month": 3, "date": 10, "hours": 12}, {"year": 2017, "month": 3, "date": 10, "hours": 18}, {"year": 2017, "month": 3, "date": 11, "hours": 0}], "format": "%Y-%m-%d %H:%M", "labelFontSize": 24.5, "labelLimit": 400, "labelColor": "#000000", "labelPadding": 17, "labelAlign": "right", "labelBaseline": "middle", "labelFlush": false, "labelOverlap": false, "labelBound": false, "ticks": false, "domain": true, "domainColor": "#868686", "grid": true, "gridColor": "#8c8c8c", "gridWidth": 1, "title": null}},
"color": {"field": "s", "type": "nominal", "scale": {"domain": ["T", "G5", "P25", "Te45", "O5", "LB25", "Pk45", "LG60", "L45", "G5b", "P25b", "O5b", "LB25b", "Pk45b", "d1", "d2", "d3", "d4", "d5", "d6", "d7"], "range": ["#4A7EBB", "#98B954", "#7D60A0", "#46AAC5", "#F69240", "#95B3D7", "#D99694", "#C3D69B", "#B3A2C7", "#98B954", "#7D60A0", "#F69240", "#95B3D7", "#D99694", "#95B3D7", "#E0A3A1", "#7D60A0", "#C0504D", "#E0A3A1", "#95B3D7", "#7D60A0"]}, "legend": null},
"order": {"field": "t", "type": "temporal"}
}
},
{
"data": {"values": [{}]},
"mark": {"type": "rule", "color": "#9BBB59", "strokeWidth": 5, "strokeDash": [18, 12]},
"encoding": {"x": {"datum": 70}}
},
{
"data": {"format": {"parse": {"t": "date:'%Y-%m-%d %H:%M'"}}, "values": [
{"s":"d1","t":"2017-03-09 16:12","v":60.2},{"s":"d1","t":"2017-03-09 16:39","v":100},
{"s":"d2","t":"2017-03-09 16:06","v":75},{"s":"d2","t":"2017-03-09 16:09","v":100},
{"s":"d3","t":"2017-03-09 20:12","v":83.7},{"s":"d3","t":"2017-03-09 20:21","v":100},
{"s":"d4","t":"2017-03-09 22:18","v":74},{"s":"d4","t":"2017-03-09 22:19","v":100},
{"s":"d5","t":"2017-03-09 23:18","v":100},{"s":"d5","t":"2017-03-09 23:42","v":87},
{"s":"d6","t":"2017-03-10 00:00","v":100},{"s":"d6","t":"2017-03-10 00:06","v":89.3},
{"s":"d7","t":"2017-03-10 00:09","v":83},{"s":"d7","t":"2017-03-10 00:21","v":100}
]},
"mark": {"type": "line", "strokeWidth": 4, "strokeDash": [16, 7], "clip": true},
"encoding": {
"x": {"field": "v", "type": "quantitative"},
"y": {"field": "t", "type": "temporal"},
"color": {"field": "s", "type": "nominal", "legend": null},
"order": {"field": "t", "type": "temporal"}
}
},
{
"data": {"values": [{}]},
"mark": {"type": "rect", "fill": "#ffffff", "fillOpacity": 0, "stroke": "#868686", "strokeWidth": 1.2, "clip": false},
"encoding": {"x": {"datum": -52.9}, "x2": {"datum": 115.6}, "y": {"datum": {"year": 2017, "month": 3, "date": 6, "hours": 20, "minutes": 4}}, "y2": {"datum": {"year": 2017, "month": 3, "date": 11, "hours": 2}}}
},
{
"data": {"values": [{}]},
"mark": {"type": "rect", "fill": "#ffffff", "stroke": "#3a3a3a", "strokeWidth": 1.5, "clip": false},
"encoding": {"x": {"datum": 116.1}, "x2": {"datum": 126.6}, "y": {"datum": {"year": 2017, "month": 3, "date": 7, "hours": 8, "minutes": 59}}, "y2": {"datum": {"year": 2017, "month": 3, "date": 8, "hours": 6, "minutes": 12}}}
},
{
"data": {"values": [{}]},
"mark": {"type": "rect", "fill": "#ffffff", "stroke": "#3a3a3a", "strokeWidth": 1.5, "clip": false},
"encoding": {"x": {"datum": 116.1}, "x2": {"datum": 126.6}, "y": {"datum": {"year": 2017, "month": 3, "date": 9, "hours": 12, "minutes": 42}}, "y2": {"datum": {"year": 2017, "month": 3, "date": 9, "hours": 23, "minutes": 30}}}
},
{
"data": {"values": [{}]},
"mark": {"type": "text", "text": "Méthode intermédiaire", "font": "DejaVu Serif", "fontSize": 24, "angle": 90, "align": "center", "baseline": "middle", "color": "#000000", "clip": false},
"encoding": {"x": {"datum": 121.4}, "y": {"datum": {"year": 2017, "month": 3, "date": 7, "hours": 19, "minutes": 35}}}
},
{
"data": {"values": [{}]},
"mark": {"type": "text", "text": "Méthode\u00a0 3", "font": "DejaVu Serif", "fontSize": 24, "angle": 90, "align": "center", "baseline": "middle", "color": "#000000", "clip": false},
"encoding": {"x": {"datum": 121.4}, "y": {"datum": {"year": 2017, "month": 3, "date": 9, "hours": 18, "minutes": 6}}}
},
{
"data": {"values": [{}]},
"mark": {"type": "text", "text": ["Vapeur diffusée (9 h)", "sur une surface", "de 7 m x 4 m"], "fontSize": 22.5, "lineHeight": 31, "angle": 90, "align": "center", "baseline": "middle", "color": "#000000", "clip": false},
"encoding": {"x": {"datum": 111.1}, "y": {"datum": {"year": 2017, "month": 3, "date": 7, "hours": 17, "minutes": 27}}}
},
{
"data": {"values": [{}]},
"mark": {"type": "text", "text": ["Vapeur diffusée (5 h)", "sur une surface", "de 3,5 m x 4 m"], "fontSize": 22.5, "lineHeight": 31, "angle": 90, "align": "center", "baseline": "middle", "color": "#000000", "clip": false},
"encoding": {"x": {"datum": 111.1}, "y": {"datum": {"year": 2017, "month": 3, "date": 9, "hours": 19, "minutes": 30}}}
},
{
"data": {"values": [{}]},
"mark": {"type": "rule", "color": "#FF0000", "strokeWidth": 6},
"encoding": {"x": {"datum": 97.7}, "y": {"datum": {"year": 2017, "month": 3, "date": 7, "hours": 11, "minutes": 53}}, "y2": {"datum": {"year": 2017, "month": 3, "date": 7, "hours": 22, "minutes": 42}}}
},
{
"data": {"values": [{}]},
"mark": {"type": "rule", "color": "#FF0000", "strokeWidth": 6},
"encoding": {"x": {"datum": 97.7}, "y": {"datum": {"year": 2017, "month": 3, "date": 9, "hours": 16, "minutes": 3}}, "y2": {"datum": {"year": 2017, "month": 3, "date": 9, "hours": 22, "minutes": 8}}}
},
{
"data": {"values": [{}]},
"mark": {"type": "point", "shape": "M-1,1.75L0,0L1,1.75", "size": 676, "filled": false, "color": "#FF0000", "strokeWidth": 7, "opacity": 1},
"encoding": {"x": {"datum": 97.7}, "y": {"datum": {"year": 2017, "month": 3, "date": 7, "hours": 11, "minutes": 52}}}
},
{
"data": {"values": [{}]},
"mark": {"type": "point", "shape": "M-1,-1.75L0,0L1,-1.75", "size": 676, "filled": false, "color": "#FF0000", "strokeWidth": 7, "opacity": 1},
"encoding": {"x": {"datum": 97.7}, "y": {"datum": {"year": 2017, "month": 3, "date": 7, "hours": 22, "minutes": 43}}}
},
{
"data": {"values": [{}]},
"mark": {"type": "point", "shape": "M-1,1.75L0,0L1,1.75", "size": 676, "filled": false, "color": "#FF0000", "strokeWidth": 7, "opacity": 1},
"encoding": {"x": {"datum": 97.7}, "y": {"datum": {"year": 2017, "month": 3, "date": 9, "hours": 16, "minutes": 2}}}
},
{
"data": {"values": [{}]},
"mark": {"type": "point", "shape": "M-1,-1.75L0,0L1,-1.75", "size": 676, "filled": false, "color": "#FF0000", "strokeWidth": 7, "opacity": 1},
"encoding": {"x": {"datum": 97.7}, "y": {"datum": {"year": 2017, "month": 3, "date": 9, "hours": 22, "minutes": 9}}}
},
{"data": {"values": [{"n": "T_serre Deg C", "s": "T"}]}, "encoding": {"x": {"datum": 96.27}}, "layer": [
 {"mark": {"type": "rule", "strokeWidth": 4, "strokeCap": "round"}, "encoding": {"y": {"datum": {"year": 2017, "month": 3, "date": 8, "hours": 7, "minutes": 51}}, "y2": {"datum": {"year": 2017, "month": 3, "date": 8, "hours": 10, "minutes": 31}}, "color": {"field": "s", "type": "nominal", "legend": null}}},
 {"mark": {"type": "text", "angle": 90, "align": "left", "baseline": "middle", "fontSize": 23.5, "color": "#000000"}, "encoding": {"y": {"datum": {"year": 2017, "month": 3, "date": 8, "hours": 11, "minutes": 3}}, "text": {"field": "n"}}}]},
{"data": {"values": [{"n": "1-5cm", "s": "G5"}]}, "encoding": {"x": {"datum": 90.37}}, "layer": [
 {"mark": {"type": "rule", "strokeWidth": 4, "strokeCap": "round"}, "encoding": {"y": {"datum": {"year": 2017, "month": 3, "date": 8, "hours": 7, "minutes": 51}}, "y2": {"datum": {"year": 2017, "month": 3, "date": 8, "hours": 10, "minutes": 31}}, "color": {"field": "s", "type": "nominal", "legend": null}}},
 {"mark": {"type": "text", "angle": 90, "align": "left", "baseline": "middle", "fontSize": 23.5, "color": "#000000"}, "encoding": {"y": {"datum": {"year": 2017, "month": 3, "date": 8, "hours": 11, "minutes": 3}}, "text": {"field": "n"}}}]},
{"data": {"values": [{"n": "1-25cm", "s": "P25"}]}, "encoding": {"x": {"datum": 84.48}}, "layer": [
 {"mark": {"type": "rule", "strokeWidth": 4, "strokeCap": "round"}, "encoding": {"y": {"datum": {"year": 2017, "month": 3, "date": 8, "hours": 7, "minutes": 51}}, "y2": {"datum": {"year": 2017, "month": 3, "date": 8, "hours": 10, "minutes": 31}}, "color": {"field": "s", "type": "nominal", "legend": null}}},
 {"mark": {"type": "text", "angle": 90, "align": "left", "baseline": "middle", "fontSize": 23.5, "color": "#000000"}, "encoding": {"y": {"datum": {"year": 2017, "month": 3, "date": 8, "hours": 11, "minutes": 3}}, "text": {"field": "n"}}}]},
{"data": {"values": [{"n": "1-45cm", "s": "Te45"}]}, "encoding": {"x": {"datum": 78.59}}, "layer": [
 {"mark": {"type": "rule", "strokeWidth": 4, "strokeCap": "round"}, "encoding": {"y": {"datum": {"year": 2017, "month": 3, "date": 8, "hours": 7, "minutes": 51}}, "y2": {"datum": {"year": 2017, "month": 3, "date": 8, "hours": 10, "minutes": 31}}, "color": {"field": "s", "type": "nominal", "legend": null}}},
 {"mark": {"type": "text", "angle": 90, "align": "left", "baseline": "middle", "fontSize": 23.5, "color": "#000000"}, "encoding": {"y": {"datum": {"year": 2017, "month": 3, "date": 8, "hours": 11, "minutes": 3}}, "text": {"field": "n"}}}]},
{"data": {"values": [{"n": "2-5cm", "s": "O5"}]}, "encoding": {"x": {"datum": 72.69}}, "layer": [
 {"mark": {"type": "rule", "strokeWidth": 4, "strokeCap": "round"}, "encoding": {"y": {"datum": {"year": 2017, "month": 3, "date": 8, "hours": 7, "minutes": 51}}, "y2": {"datum": {"year": 2017, "month": 3, "date": 8, "hours": 10, "minutes": 31}}, "color": {"field": "s", "type": "nominal", "legend": null}}},
 {"mark": {"type": "text", "angle": 90, "align": "left", "baseline": "middle", "fontSize": 23.5, "color": "#000000"}, "encoding": {"y": {"datum": {"year": 2017, "month": 3, "date": 8, "hours": 11, "minutes": 3}}, "text": {"field": "n"}}}]},
{"data": {"values": [{"n": "2-25cm", "s": "LB25"}]}, "encoding": {"x": {"datum": 66.8}}, "layer": [
 {"mark": {"type": "rule", "strokeWidth": 4, "strokeCap": "round"}, "encoding": {"y": {"datum": {"year": 2017, "month": 3, "date": 8, "hours": 7, "minutes": 51}}, "y2": {"datum": {"year": 2017, "month": 3, "date": 8, "hours": 10, "minutes": 31}}, "color": {"field": "s", "type": "nominal", "legend": null}}},
 {"mark": {"type": "text", "angle": 90, "align": "left", "baseline": "middle", "fontSize": 23.5, "color": "#000000"}, "encoding": {"y": {"datum": {"year": 2017, "month": 3, "date": 8, "hours": 11, "minutes": 3}}, "text": {"field": "n"}}}]},
{"data": {"values": [{"n": "2-45cm", "s": "Pk45"}]}, "encoding": {"x": {"datum": 60.9}}, "layer": [
 {"mark": {"type": "rule", "strokeWidth": 4, "strokeCap": "round"}, "encoding": {"y": {"datum": {"year": 2017, "month": 3, "date": 8, "hours": 7, "minutes": 51}}, "y2": {"datum": {"year": 2017, "month": 3, "date": 8, "hours": 10, "minutes": 31}}, "color": {"field": "s", "type": "nominal", "legend": null}}},
 {"mark": {"type": "text", "angle": 90, "align": "left", "baseline": "middle", "fontSize": 23.5, "color": "#000000"}, "encoding": {"y": {"datum": {"year": 2017, "month": 3, "date": 8, "hours": 11, "minutes": 3}}, "text": {"field": "n"}}}]},
{"data": {"values": [{"n": "2-60cm", "s": "LG60"}]}, "encoding": {"x": {"datum": 55.01}}, "layer": [
 {"mark": {"type": "rule", "strokeWidth": 4, "strokeCap": "round"}, "encoding": {"y": {"datum": {"year": 2017, "month": 3, "date": 8, "hours": 7, "minutes": 51}}, "y2": {"datum": {"year": 2017, "month": 3, "date": 8, "hours": 10, "minutes": 31}}, "color": {"field": "s", "type": "nominal", "legend": null}}},
 {"mark": {"type": "text", "angle": 90, "align": "left", "baseline": "middle", "fontSize": 23.5, "color": "#000000"}, "encoding": {"y": {"datum": {"year": 2017, "month": 3, "date": 8, "hours": 11, "minutes": 3}}, "text": {"field": "n"}}}]},
{"data": {"values": [{"n": "3-45cm", "s": "L45"}]}, "encoding": {"x": {"datum": 49.12}}, "layer": [
 {"mark": {"type": "rule", "strokeWidth": 4, "strokeCap": "round"}, "encoding": {"y": {"datum": {"year": 2017, "month": 3, "date": 8, "hours": 7, "minutes": 51}}, "y2": {"datum": {"year": 2017, "month": 3, "date": 8, "hours": 10, "minutes": 31}}, "color": {"field": "s", "type": "nominal", "legend": null}}},
 {"mark": {"type": "text", "angle": 90, "align": "left", "baseline": "middle", "fontSize": 23.5, "color": "#000000"}, "encoding": {"y": {"datum": {"year": 2017, "month": 3, "date": 8, "hours": 11, "minutes": 3}}, "text": {"field": "n"}}}]}
]
}
